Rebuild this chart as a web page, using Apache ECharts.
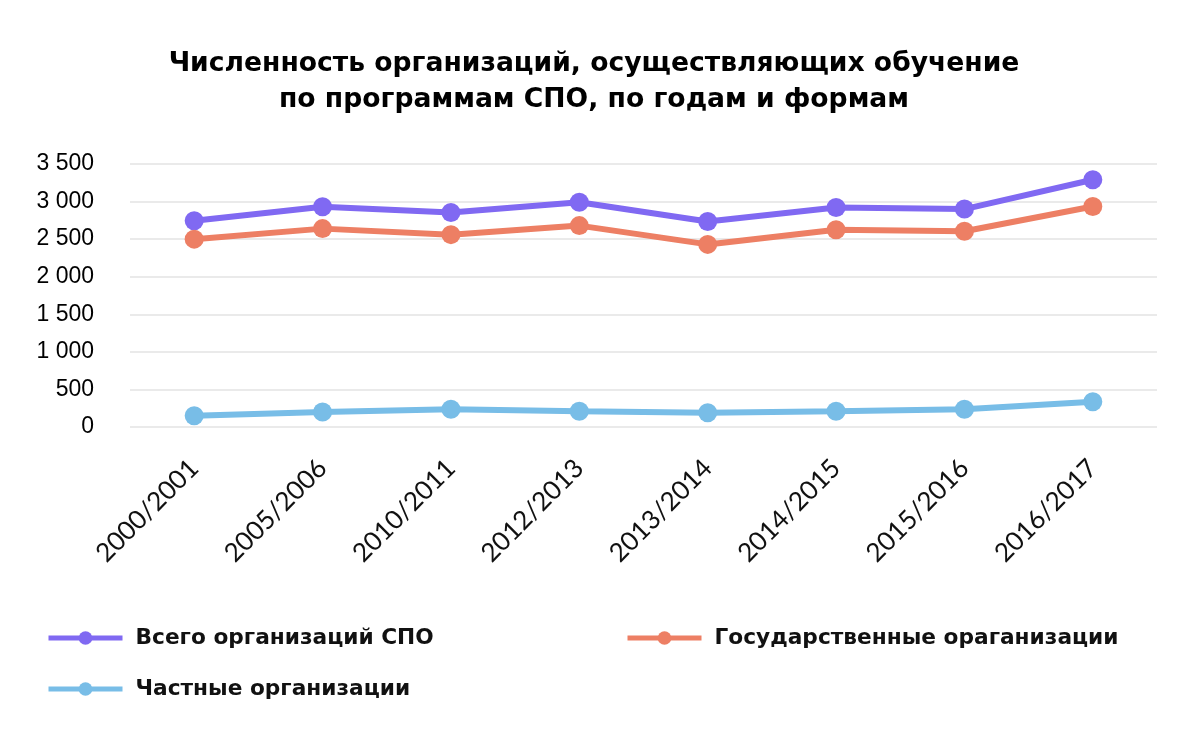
<!DOCTYPE html>
<html lang="ru">
<head>
    <meta charset="UTF-8">
    <title>Численность организаций СПО</title>
    <script src="https://cdn.jsdelivr.net/npm/echarts@6/dist/echarts.min.js"></script>
    <style>
        html, body { margin: 0; padding: 0; background: #fff; }
        #chart { width: 1190px; height: 752px; }
    </style>
</head>
<body>
<div id="chart"></div>
<script>
    // данные
    var years = ['2000/2001', '2005/2006', '2010/2011', '2012/2013', '2013/2014', '2014/2015', '2015/2016', '2016/2017'];
    var totalOrgs = [2745, 2930, 2855, 2990, 2735, 2920, 2900, 3290];
    var stateOrgs = [2500, 2640, 2560, 2680, 2430, 2625, 2605, 2935];
    var privateOrgs = [150, 200, 235, 210, 190, 210, 235, 335];
    var seriesNames = ['Всего организаций СПО', 'Государственные ораганизации', 'Частные организации'];
    var colors = ['#8069f2', '#ed7f64', '#78bde7'];

    function fmt(v) {
        return String(v).replace(/\B(?=(\d{3})+(?!\d))/g, ' ');
    }

    var legendText = {
        fontFamily: 'DejaVu Sans',
        fontWeight: 'bold',
        fontSize: 21.7,
        color: '#111',
        padding: [0, 0, 0, 8]
    };

    function makeLegend(name, left, top) {
        return {
            data: [name],
            left: left,
            top: top,
            itemWidth: 74,
            itemHeight: 17,
            itemGap: 14,
            lineStyle: { width: 5 },
            textStyle: legendText
        };
    }

    function makeSeries(name, data, color) {
        return {
            name: name,
            type: 'line',
            data: data,
            symbol: 'circle',
            symbolSize: 19,
            lineStyle: { width: 6, color: color },
            itemStyle: { color: color },
            emphasis: { disabled: true }
        };
    }

    var chart = echarts.init(document.getElementById('chart'));
    chart.setOption({
        animation: false,
        title: {
            text: 'Численность организаций, осуществляющих обучение\nпо программам СПО, по годам и формам',
            left: 589,
            top: 41,
            textAlign: 'center',
            textStyle: {
                fontFamily: 'DejaVu Sans',
                fontWeight: 'bold',
                fontSize: 26.6,
                lineHeight: 36,
                align: 'center',
                color: '#000'
            }
        },
        legend: [
            makeLegend(seriesNames[0], 41, 622),
            makeLegend(seriesNames[1], 620, 622),
            makeLegend(seriesNames[2], 41, 673)
        ],
        grid: { left: 130, right: 33, top: 164, bottom: 325 },
        xAxis: {
            type: 'category',
            data: years,
            boundaryGap: true,
            axisLine: { show: false },
            axisTick: { show: false },
            axisLabel: {
                rotate: 45,
                margin: 37,
                fontFamily: 'Lato',
                fontSize: 26,
                color: '#111'
            }
        },
        yAxis: {
            type: 'value',
            min: 0,
            max: 3500,
            interval: 500,
            axisLine: { show: false },
            axisTick: { show: false },
            splitLine: { lineStyle: { color: '#e3e3e3', width: 1.5 } },
            axisLabel: {
                margin: 36,
                fontFamily: 'Liberation Sans',
                fontSize: 23,
                color: '#000',
                formatter: fmt
            }
        },
        series: [
            makeSeries(seriesNames[0], totalOrgs, colors[0]),
            makeSeries(seriesNames[1], stateOrgs, colors[1]),
            makeSeries(seriesNames[2], privateOrgs, colors[2])
        ]
    });
</script>
</body>
</html>
